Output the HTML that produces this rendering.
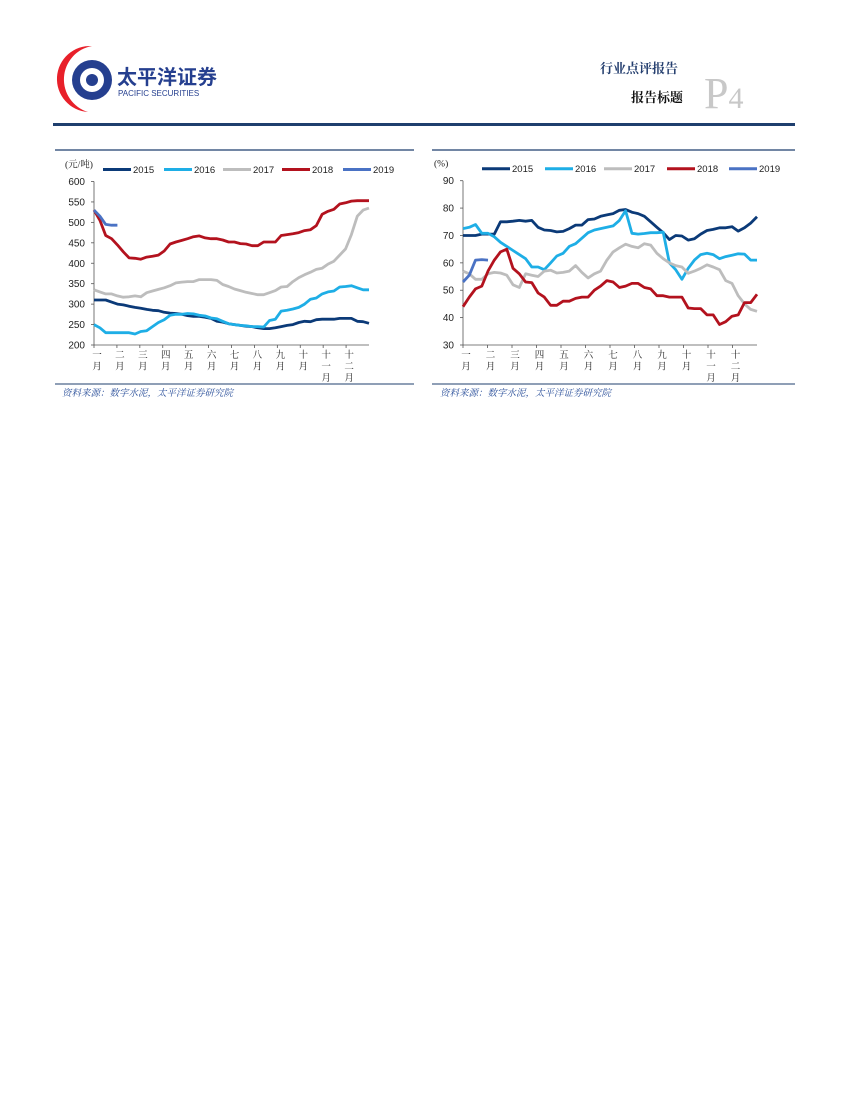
<!DOCTYPE html>
<html><head><meta charset="utf-8"><style>
body{margin:0;background:#fff;}
svg text{font-family:"Liberation Sans","Noto Sans CJK SC",sans-serif;}
svg text.cj{font-family:"Liberation Serif","Noto Serif CJK SC",serif;}
svg text.serif{font-family:"Liberation Serif",serif;}
</style></head><body>
<svg width="850" height="1100" viewBox="0 0 850 1100" xmlns="http://www.w3.org/2000/svg">
<g>
<path d="M92,46 A34,34 0 0 0 88,112 A30,30 0 0 1 92,46 Z" fill="#e8202a"/>
<circle cx="92" cy="80" r="20" fill="#253f8f"/>
<circle cx="92" cy="80" r="12" fill="#fff"/>
<circle cx="92" cy="80" r="6" fill="#253f8f"/>
<text x="117" y="84" font-size="20" font-weight="bold" fill="#253f8f">太平洋证券</text>
<text x="118" y="96" font-size="8" fill="#253f8f">PACIFIC SECURITIES</text>
</g>
<text x="600" y="73" font-size="13" font-weight="bold" fill="#253f6f" class="cj">行业点评报告</text>
<text x="631" y="102" font-size="13" font-weight="bold" fill="#111" class="cj">报告标题</text>
<text x="704" y="108" font-size="44" fill="#c8c8c8" class="serif">P<tspan font-size="30">4</tspan></text>
<rect x="53" y="123" width="742" height="3" fill="#1f3f6e"/>
<line x1="55" y1="150" x2="414" y2="150" stroke="#1f3f6e" stroke-width="1.2"/>
<line x1="432" y1="150" x2="795" y2="150" stroke="#1f3f6e" stroke-width="1.2"/>
<line x1="55" y1="384" x2="414" y2="384" stroke="#1f3f6e" stroke-width="1"/>
<line x1="432" y1="384" x2="795" y2="384" stroke="#1f3f6e" stroke-width="1"/>
<text x="62" y="396" font-size="9.5" font-style="italic" fill="#2a4f9a" class="cj">资料来源：数字水泥，太平洋证券研究院</text>
<text x="440" y="396" font-size="9.5" font-style="italic" fill="#2a4f9a" class="cj">资料来源：数字水泥，太平洋证券研究院</text>
<g id="c1"></g><g id="c2"></g>
</svg>
<script>
const months=["一月","二月","三月","四月","五月","六月","七月","八月","九月","十月","十一月","十二月"];
const seriesNames=["2015","2016","2017","2018","2019"];
const colors=["#0b3a78","#1eaee6","#bdbdbd","#b3121e","#4a72c4"];
const priceTicks=[200,250,300,350,400,450,500,550,600];
const rateTicks=[30,40,50,60,70,80,90];
const price2015=[310,310,310,305,300,298,295,292,290,287,285,284,280,278,277,275,272,270,270,268,265,258,256,252,250,248,246,245,242,240,240,242,245,248,250,255,258,257,262,263,263,263,265,265,265,258,257,253];
const price2016=[250,242,230,230,230,230,230,227,233,235,245,255,262,273,275,275,277,276,273,271,266,264,258,252,250,248,247,245,245,244,260,263,283,285,288,292,300,312,315,325,330,332,342,343,345,340,335,335];
const price2017=[335,330,325,325,320,317,318,320,318,328,332,336,340,345,352,354,355,355,360,360,360,358,348,343,337,333,329,326,323,323,328,333,342,343,355,365,372,378,385,388,398,405,420,435,470,515,530,535];
const price2018=[530,505,468,460,445,428,413,412,410,415,417,420,430,447,452,456,460,465,467,462,460,460,457,452,452,448,447,443,443,452,452,452,468,470,472,475,480,482,492,520,527,532,545,548,552,553,553,553];
const price2019=[530,515,495,493,493];
const rate2015=[70,70,70,70.5,70.5,70.5,75,75,75.2,75.5,75.2,75.5,73,72,71.8,71.3,71.5,72.5,73.8,73.8,75.8,76,77,77.5,78,79.2,79.5,78.5,78,77,75,73,71,68.5,70,69.8,68.3,68.8,70.5,71.8,72.2,72.8,72.8,73.2,71.6,72.8,74.5,76.8];
const rate2016=[72.5,73,74,70.8,70.8,69.5,67.5,66,64.5,63,61.5,58.5,58.5,57.5,60,62.5,63.5,66,67,69,71,72,72.5,73,73.5,75.5,79,70.8,70.5,70.7,71,71,71.2,60,57.5,54,58,61,63,63.5,63,61.5,62.3,62.8,63.3,63.2,61,61];
const rate2017=[57,56,54,54,56,56.5,56.3,55.5,52,51,56,55.5,55,57,57.3,56.3,56.5,57,59,56.5,54.5,56,57,61,64,65.5,66.8,66,65.5,67,66.5,63.5,61.5,60,59,58.5,56.2,57,58,59.3,58.5,57.5,53.5,52.5,48,45,43,42.3];
const rate2018=[44,47.5,50.5,51.5,57,61,64,65,58,56,53,52.8,49,47.5,44.5,44.5,46,46,47,47.5,47.5,50,51.5,53.5,53,51,51.5,52.5,52.5,51,50.5,48,48,47.5,47.5,47.5,43.5,43.3,43.3,41,41,37.5,38.5,40.5,41,45.5,45.5,48.5];
const rate2019=[53,55.5,61,61.2,61];
const NS="http://www.w3.org/2000/svg";
function mk(p,t,a){const e=document.createElementNS(NS,t);for(const k in a)e.setAttribute(k,a[k]);p.appendChild(e);return e;}
function chart(g,cfg){
 const {x0,x1,y0,y1,vmin,vmax,ticks,data,unit,legX}=cfg;
 const N=48;
 const xs=i=>x0+(x1-x0)*i/(N-1);
 const ys=v=>y0-(v-vmin)/(vmax-vmin)*(y0-y1);
 const ya=mk(g,"line",{x1:x0,y1:y1,x2:x0,y2:y0,stroke:"#555","stroke-width":0.8});
 
 
 const xa=mk(g,"line",{x1:x0,y1:y0,x2:x1,y2:y0,stroke:"#555","stroke-width":0.8});
 
 
 ticks.forEach(v=>{
  const t=mk(g,"text",{x:x0-9,y:ys(v)+3.5,"font-size":10,"text-anchor":"end",fill:"#222"});t.textContent=v;
  
  
  mk(g,"line",{x1:x0-3,y1:ys(v),x2:x0,y2:ys(v),stroke:"#555","stroke-width":0.8});
 });
 const mw=(x1-x0)/12;
 months.forEach((m,i)=>{
  const cx=x0+mw*i+3;
  mk(g,"line",{x1:x0+mw*i,y1:y0,x2:x0+mw*i,y2:y0+3,stroke:"#555","stroke-width":0.8});
  const chars=m.split("");
  chars.forEach((c,j)=>{
   const t=mk(g,"text",{x:cx,y:y0+13+j*11.5,"font-size":9.5,"text-anchor":"middle",fill:"#222"});
   t.setAttribute("class","cj");t.textContent=c;
   
   
  });
 });
 const u=mk(g,"text",{x:x0-29,y:y1-14,"font-size":9.5,fill:"#222"});u.setAttribute("class","cj");u.textContent=unit;
 
 
 data.forEach((d,s)=>{
  const pts=d.map((v,i)=>xs(i).toFixed(1)+","+ys(v).toFixed(1)).join(" ");
  const pl=mk(g,"polyline",{points:pts,fill:"none",stroke:colors[s],"stroke-width":2.8,"stroke-linejoin":"round"});
  
  
  const lx=legX[s];
  const ll=mk(g,"line",{x1:lx,y1:y1-12,x2:lx+28,y2:y1-12,stroke:colors[s],"stroke-width":3});
  
  
  const lt=mk(g,"text",{x:lx+30,y:y1-8.5,"font-size":9.5,fill:"#222"});lt.textContent=seriesNames[s];
  
  
 });
}
const g1=document.getElementById("c1");


chart(g1,{x0:94,x1:369,y0:345,y1:181.5,vmin:200,vmax:600,ticks:priceTicks,unit:"(元/吨)",
 data:[price2015,price2016,price2017,price2018,price2019],legX:[103,164,223,282,343]});
const g2=document.getElementById("c2");


chart(g2,{x0:463,x1:757,y0:345,y1:180.7,vmin:30,vmax:90,ticks:rateTicks,unit:"(%)",
 data:[rate2015,rate2016,rate2017,rate2018,rate2019],legX:[482,545,604,667,729]});
</script>
</body></html>
